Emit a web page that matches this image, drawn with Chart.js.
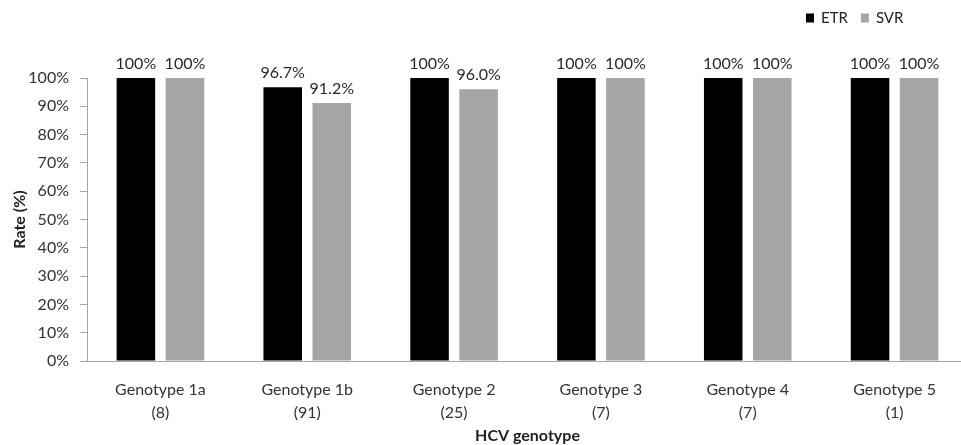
<!DOCTYPE html>
<html><head><meta charset="utf-8">
<script src="https://cdn.jsdelivr.net/npm/chart.js@4"></script>
<style>
html,body{margin:0;padding:0;background:#fff;overflow:hidden;}
#wrap{width:970px;height:445px;position:relative;}
</style></head>
<body><div id="wrap"><canvas id="c"></canvas></div>
<script>
const categories = [["Genotype 1a","(8)"],["Genotype 1b","(91)"],["Genotype 2","(25)"],["Genotype 3","(7)"],["Genotype 4","(7)"],["Genotype 5","(1)"]];
const etrValues = [100, 96.7, 100, 100, 100, 100];
const svrValues = [100, 91.2, 96.0, 100, 100, 100];
const etrLabels = ["100%","96.7%","100%","100%","100%","100%"];
const svrLabels = ["100%","91.2%","96.0%","100%","100%","100%"];
const yTicks = [0,10,20,30,40,50,60,70,80,90,100];

const FONT = "Lato, 'Open Sans', sans-serif";
const TXT = '#333333';

const valueLabels = {
  id:'valueLabels',
  afterDatasetsDraw(chart){
    const ctx = chart.ctx;
    const lbls = [etrLabels, svrLabels];
    ctx.save();
    ctx.font = '16px ' + FONT;
    ctx.fillStyle = '#2a2a2a';
    ctx.textAlign = 'center';
    ctx.textBaseline = 'bottom';
    chart.data.datasets.forEach((ds,i)=>{
      chart.getDatasetMeta(i).data.forEach((bar,j)=>{
        ctx.fillText(lbls[i][j], bar.x, bar.y - 6);
      });
    });
    ctx.restore();
  }
};

const customLegend = {
  id:'customLegend',
  afterDraw(chart){
    const ctx = chart.ctx;
    ctx.save();
    ctx.font = '15px ' + FONT;
    ctx.textBaseline = 'middle';
    ctx.textAlign = 'left';
    let x = 806;
    const y = 18;
    chart.data.datasets.forEach((ds)=>{
      ctx.fillStyle = ds.backgroundColor;
      ctx.fillRect(x, y-4.5, 8, 9);
      x += 15;
      ctx.fillStyle = '#222';
      ctx.fillText(ds.label, x, y);
      x += ctx.measureText(ds.label).width + 13;
    });
    ctx.restore();
  }
};

new Chart(document.getElementById('c'), {
  type:'bar',
  data:{
    labels: categories,
    datasets:[
      {label:'ETR', data: etrValues, backgroundColor:'#000000', categoryPercentage:0.668, barPercentage:0.786},
      {label:'SVR', data: svrValues, backgroundColor:'#a5a5a5', categoryPercentage:0.668, barPercentage:0.786}
    ]
  },
  options:{
    responsive:true,
    maintainAspectRatio:false,
    animation:false,
    layout:{padding:{top:78,right:2,left:0,bottom:0}},
    plugins:{legend:{display:false}, tooltip:{enabled:false}},
    scales:{
      x:{
        grid:{display:false},
        border:{display:true, color:'#a6a6a6', width:1},
        ticks:{color:TXT, font:{family:FONT, size:16, lineHeight:1.4}, padding:10, maxRotation:0, autoSkip:false},
        title:{display:true, text:'HCV genotype', color:'#222', font:{family:FONT, size:16, weight:'bold'}, padding:{top:0,bottom:0}},
        afterFit(s){ s.height = 84; }
      },
      y:{
        min:0, max:100,
        afterBuildTicks(s){ s.ticks = yTicks.map(v=>({value:v})); },
        grid:{display:true, drawOnChartArea:false, drawTicks:true, tickLength:7, color:'#a6a6a6'},
        border:{display:true, color:'#a6a6a6', width:1},
        ticks:{color:TXT, font:{family:FONT, size:16}, padding:11, callback:v=>v+'%'},
        title:{display:true, text:'Rate (%)', color:'#222', font:{family:FONT, size:16, weight:'bold'}, padding:{top:10,bottom:0}},
        afterFit(s){ s.width = 87; }
      }
    }
  },
  plugins:[valueLabels, customLegend]
});
</script></body></html>
